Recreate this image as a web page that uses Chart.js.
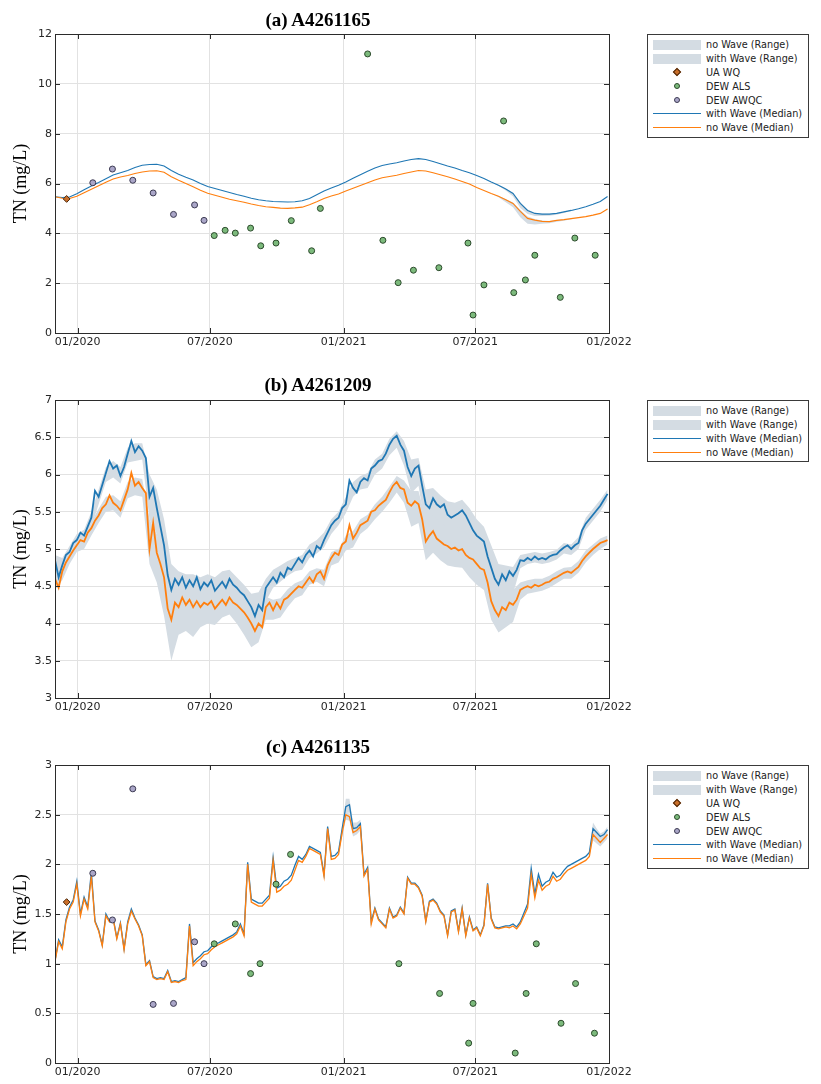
<!DOCTYPE html>
<html>
<head>
<meta charset="utf-8">
<title>TN (mg/L)</title>
<script src="https://cdn.jsdelivr.net/npm/chart.js@4.4.1/dist/chart.umd.min.js"></script>
<style>
    body { margin: 0; background: #fff; }
    #page { position: relative; width: 821px; height: 1084px; overflow: hidden; }
    #page canvas { position: absolute; left: 0; }
    .panel-title { position: absolute; left: 218px; width: 200px; text-align: center; font: bold 19px 'Liberation Serif', 'Times New Roman', serif; line-height: 22px; color: #000; }
    .legend-box { position: absolute; left: 647px; width: 162px; box-sizing: border-box; border: 1px solid #3a3a3a; padding: 3px 0 2px 0; background: #fff; font: 9.7px 'DejaVu Sans', sans-serif; color: #222; }
    .lg-row { display: flex; align-items: center; height: 13.8px; white-space: nowrap; }
    .lg-key { width: 49px; margin-left: 4px; margin-right: 5px; display: flex; justify-content: center; align-items: center; height: 13px; }
    .lg-band { display: block; width: 48px; height: 10px; }
    .lg-line { display: block; width: 48px; height: 0; border-top: 1.3px solid; }
    .lg-dot { display: block; width: 4px; height: 4px; border: 1px solid; border-radius: 50%; }
    .lg-diamond { display: block; width: 4px; height: 4px; border: 1px solid; transform: rotate(45deg); }
</style>
</head>
<body>
<div id="page"></div>
<script>
// x axis is in days since 2019-12-01
const tickDays = [31, 213, 397, 578, 762];
const tickLabels = ['01/2020', '07/2020', '01/2021', '07/2021', '01/2022'];

// ---------- (a) A4261165 ----------
const aStep = 10;
const aWithMedian = [
    5.47, 5.44, 5.46, 5.59, 5.75, 5.90, 6.04, 6.19, 6.34, 6.43,
    6.52, 6.64, 6.73, 6.76, 6.77, 6.70, 6.52, 6.37, 6.25, 6.14,
    6.00, 5.88, 5.80, 5.72, 5.64, 5.56, 5.49, 5.41, 5.35, 5.31,
    5.28, 5.27, 5.26, 5.27, 5.31, 5.40, 5.55, 5.70, 5.82, 5.93,
    6.06, 6.21, 6.35, 6.49, 6.62, 6.72, 6.78, 6.83, 6.90, 6.96,
    7.00, 6.96, 6.88, 6.79, 6.70, 6.62, 6.52, 6.43, 6.32, 6.20,
    6.06, 5.93, 5.78, 5.60, 5.20, 4.92, 4.80, 4.77, 4.77, 4.80,
    4.86, 4.92, 4.99, 5.07, 5.17, 5.28, 5.48
];
const aNoMedian = [
    5.47, 5.41, 5.40, 5.49, 5.63, 5.77, 5.91, 6.05, 6.18, 6.26,
    6.32, 6.40, 6.46, 6.50, 6.51, 6.45, 6.27, 6.13, 6.00, 5.87,
    5.73, 5.61, 5.53, 5.45, 5.37, 5.31, 5.25, 5.18, 5.12, 5.07,
    5.04, 5.01, 5.00, 5.02, 5.05, 5.15, 5.27, 5.40, 5.50, 5.58,
    5.70, 5.81, 5.92, 6.03, 6.14, 6.23, 6.28, 6.33, 6.40, 6.46,
    6.52, 6.50, 6.43, 6.35, 6.27, 6.18, 6.08, 5.98, 5.84, 5.72,
    5.60, 5.49, 5.35, 5.20, 4.88, 4.60, 4.53, 4.48, 4.47, 4.52,
    4.55, 4.59, 4.63, 4.67, 4.73, 4.80, 4.98
];
// range only shows where the recession bottoms out (09-11/2021)
const aBandDays = [600, 610, 620, 630, 640, 650, 660, 670, 680, 690, 700, 710, 720];
const aWithHi = [6.06, 5.94, 5.80, 5.63, 5.25, 4.96, 4.83, 4.79, 4.79, 4.81, 4.87, 4.93, 4.99];
const aWithLo = [6.06, 5.90, 5.72, 5.48, 5.02, 4.78, 4.70, 4.70, 4.71, 4.75, 4.82, 4.90, 4.99];
const aNoHi = [5.60, 5.50, 5.38, 5.24, 4.95, 4.68, 4.58, 4.52, 4.50, 4.54, 4.56, 4.59, 4.63];
const aNoLo = [5.60, 5.45, 5.25, 5.05, 4.65, 4.38, 4.35, 4.38, 4.40, 4.46, 4.51, 4.57, 4.63];
const aUaDays = [16];
const aUaVals = [5.38];
const awqcDays = [52, 79, 107, 135, 163, 192, 205];
const aAwqcVals = [6.03, 6.58, 6.13, 5.62, 4.76, 5.14, 4.52];
const aAlsDays = [219, 234, 248, 269, 283, 304, 325, 353, 365, 430, 451, 472, 493, 528, 568, 575, 590, 617, 631, 647, 660, 695, 715, 743];
const aAlsVals = [3.91, 4.12, 4.01, 4.21, 3.50, 3.61, 4.51, 3.30, 5.00, 11.2, 3.72, 2.02, 2.52, 2.62, 3.61, 0.72, 1.93, 8.51, 1.62, 2.13, 3.12, 1.43, 3.81, 3.12];

// ---------- (b) A4261209 ----------
const bStep = 5;
const bWithMedian = [
    4.85, 4.62, 4.78, 4.92, 4.96, 5.08, 5.12, 5.22, 5.18, 5.30,
    5.42, 5.78, 5.70, 5.86, 6.02, 6.18, 6.08, 6.12, 5.98, 6.10,
    6.28, 6.45, 6.30, 6.38, 6.32, 6.22, 5.70, 5.82, 5.55, 5.30,
    5.05, 4.65, 4.45, 4.60, 4.52, 4.62, 4.48, 4.58, 4.50, 4.62,
    4.46, 4.55, 4.50, 4.58, 4.44, 4.50, 4.56, 4.48, 4.60, 4.52,
    4.48, 4.42, 4.38, 4.30, 4.22, 4.10, 4.25, 4.18, 4.48, 4.55,
    4.62, 4.55, 4.68, 4.62, 4.75, 4.72, 4.80, 4.88, 4.82, 4.92,
    4.98, 4.90, 5.04, 5.00, 5.12, 5.22, 5.32, 5.38, 5.42, 5.55,
    5.60, 5.92, 5.82, 5.76, 5.90, 5.95, 5.92, 6.08, 6.12, 6.18,
    6.20, 6.28, 6.40, 6.48, 6.52, 6.40, 6.32, 6.10, 5.98, 6.08,
    6.12, 5.85, 5.60, 5.55, 5.68, 5.60, 5.56, 5.60, 5.46, 5.42,
    5.45, 5.48, 5.52, 5.45, 5.35, 5.25, 5.18, 5.14, 5.10, 4.90,
    4.75, 4.60, 4.52, 4.66, 4.58, 4.70, 4.64, 4.72, 4.85, 4.84,
    4.88, 4.85, 4.90, 4.86, 4.88, 4.86, 4.90, 4.92, 4.93, 4.98,
    5.02, 5.05, 5.00, 5.05, 5.08, 5.25, 5.34, 5.40, 5.46, 5.52,
    5.58, 5.66, 5.74
];
const bNoMedian = [
    4.60, 4.48, 4.70, 4.82, 4.90, 4.98, 5.05, 5.12, 5.10, 5.22,
    5.28, 5.38, 5.45, 5.55, 5.60, 5.72, 5.62, 5.58, 5.52, 5.66,
    5.80, 6.02, 5.85, 5.90, 5.82, 5.75, 5.00, 5.35, 4.95, 4.80,
    4.62, 4.20, 4.05, 4.28, 4.22, 4.35, 4.25, 4.32, 4.22, 4.30,
    4.22, 4.28, 4.25, 4.30, 4.20, 4.26, 4.32, 4.25, 4.35, 4.28,
    4.25, 4.20, 4.15, 4.08, 4.00, 3.90, 4.00, 3.95, 4.22, 4.28,
    4.18, 4.28, 4.20, 4.32, 4.35, 4.40, 4.45, 4.50, 4.48, 4.55,
    4.62, 4.55, 4.66, 4.70, 4.60, 4.78, 4.88, 4.95, 4.92, 5.06,
    5.10, 5.32, 5.14, 5.22, 5.32, 5.35, 5.38, 5.50, 5.52, 5.58,
    5.62, 5.66, 5.76, 5.85, 5.90, 5.82, 5.80, 5.62, 5.58, 5.64,
    5.60, 5.40, 5.10, 5.18, 5.24, 5.14, 5.10, 5.06, 5.04, 5.00,
    5.02, 4.98, 5.00, 4.92, 4.88, 4.86, 4.80, 4.74, 4.72, 4.55,
    4.30, 4.18, 4.10, 4.22, 4.18, 4.28, 4.25, 4.32, 4.45, 4.48,
    4.50, 4.48, 4.52, 4.50, 4.52, 4.55, 4.56, 4.60, 4.62, 4.65,
    4.68, 4.70, 4.68, 4.72, 4.76, 4.84, 4.90, 4.95, 5.00, 5.04,
    5.08, 5.10, 5.12
];
const bBandStep = 10;
const bWithHi = [
    4.92, 4.88, 5.04, 5.20, 5.26, 5.50, 5.80, 6.10, 6.18, 6.10,
    6.36, 6.42, 6.42, 6.00, 5.80, 5.40, 4.80, 4.70, 4.66, 4.66,
    4.62, 4.66, 4.62, 4.70, 4.72, 4.62, 4.52, 4.40, 4.42, 4.60,
    4.72, 4.78, 4.84, 4.88, 4.92, 5.06, 5.12, 5.22, 5.40, 5.50,
    5.70, 5.90, 5.98, 6.02, 6.20, 6.28, 6.48, 6.58, 6.45, 6.20,
    6.22, 5.80, 5.82, 5.72, 5.64, 5.62, 5.66, 5.55, 5.40, 5.30,
    5.05, 4.80, 4.78, 4.76, 4.92, 4.94, 4.96, 4.94, 4.96, 4.99,
    5.08, 5.06, 5.16, 5.42, 5.54, 5.66, 5.80
];
const bWithLo = [
    4.72, 4.66, 4.86, 5.02, 5.08, 5.30, 5.60, 5.90, 5.96, 5.88,
    6.16, 6.18, 6.20, 5.40, 5.20, 4.70, 4.05, 4.25, 4.25, 4.10,
    4.25, 4.30, 4.25, 4.35, 4.40, 4.30, 4.15, 3.95, 4.05, 4.30,
    4.48, 4.56, 4.64, 4.70, 4.72, 4.88, 4.94, 5.02, 5.20, 5.32,
    5.48, 5.70, 5.80, 5.82, 6.00, 6.08, 6.26, 6.36, 6.12, 5.75,
    5.85, 5.25, 5.35, 5.20, 5.10, 5.10, 5.15, 5.00, 4.85, 4.75,
    4.40, 4.20, 4.30, 4.40, 4.74, 4.80, 4.82, 4.80, 4.82, 4.86,
    4.94, 4.92, 5.00, 5.26, 5.38, 5.50, 5.66
];
const bNoHi = [
    4.70, 4.80, 4.98, 5.12, 5.18, 5.36, 5.54, 5.70, 5.72, 5.64,
    5.90, 5.96, 5.94, 5.40, 5.20, 4.90, 4.30, 4.40, 4.40, 4.38,
    4.38, 4.40, 4.36, 4.46, 4.50, 4.40, 4.30, 4.20, 4.18, 4.36,
    4.32, 4.34, 4.46, 4.54, 4.58, 4.70, 4.74, 4.72, 4.96, 5.00,
    5.18, 5.24, 5.40, 5.46, 5.60, 5.70, 5.84, 5.98, 5.92, 5.78,
    5.78, 5.40, 5.45, 5.35, 5.30, 5.30, 5.28, 5.15, 5.05, 4.98,
    4.65, 4.40, 4.42, 4.45, 4.55, 4.58, 4.60, 4.60, 4.64, 4.70,
    4.75, 4.76, 4.84, 4.98, 5.06, 5.14, 5.18
];
const bNoLo = [
    4.45, 4.58, 4.80, 4.96, 5.00, 5.18, 5.35, 5.50, 5.52, 5.42,
    5.68, 5.72, 5.70, 4.80, 4.55, 4.10, 3.50, 3.85, 3.90, 3.82,
    3.95, 4.00, 3.98, 4.08, 4.12, 4.00, 3.85, 3.68, 3.75, 4.05,
    4.05, 4.08, 4.22, 4.34, 4.38, 4.52, 4.56, 4.50, 4.78, 4.82,
    4.98, 5.02, 5.20, 5.28, 5.40, 5.50, 5.62, 5.76, 5.62, 5.30,
    5.35, 4.85, 4.95, 4.85, 4.78, 4.76, 4.75, 4.62, 4.52, 4.45,
    4.05, 3.88, 3.95, 4.02, 4.32, 4.40, 4.42, 4.44, 4.48, 4.54,
    4.60, 4.60, 4.68, 4.82, 4.92, 5.00, 5.06
];

// ---------- (c) A4261135 ----------
const cStep = 5;
const cWithMedian = [
    1.03, 1.24, 1.17, 1.44, 1.57, 1.64, 1.83, 1.50, 1.67, 1.57,
    1.92, 1.43, 1.34, 1.19, 1.50, 1.43, 1.46, 1.26, 1.41, 1.15,
    1.42, 1.55, 1.46, 1.39, 1.29, 0.99, 1.03, 0.87, 0.85, 0.86,
    0.85, 0.93, 0.82, 0.83, 0.82, 0.84, 0.86, 1.40, 1.01, 1.05,
    1.08, 1.12, 1.13, 1.17, 1.20, 1.21, 1.23, 1.25, 1.27, 1.29,
    1.32, 1.40, 1.30, 2.02, 1.65, 1.63, 1.61, 1.61, 1.65, 1.69,
    2.07, 1.76, 1.78, 1.83, 1.85, 1.89, 1.99, 2.08, 2.05, 2.10,
    2.18, 2.16, 2.14, 2.12, 1.90, 2.38, 2.08, 2.09, 2.13, 2.36,
    2.58, 2.60, 2.36, 2.37, 2.41, 1.90, 1.97, 1.42, 1.56, 1.45,
    1.41, 1.37, 1.56, 1.47, 1.49, 1.57, 1.51, 1.87, 1.81, 1.81,
    1.77, 1.69, 1.43, 1.63, 1.65, 1.61, 1.53, 1.49, 1.29, 1.53,
    1.55, 1.33, 1.56, 1.29, 1.47, 1.34, 1.37, 1.29, 1.39, 1.81,
    1.46, 1.37, 1.36, 1.37, 1.38, 1.38, 1.40, 1.37, 1.42, 1.51,
    1.60, 1.96, 1.70, 1.90, 1.78, 1.82, 1.84, 1.92, 1.87, 1.89,
    1.94, 1.98, 2.00, 2.02, 2.04, 2.06, 2.08, 2.12, 2.36, 2.32,
    2.28, 2.30, 2.35
];
const cNoMedian = [
    1.02, 1.22, 1.15, 1.42, 1.55, 1.62, 1.80, 1.48, 1.65, 1.55,
    1.88, 1.42, 1.33, 1.18, 1.48, 1.42, 1.45, 1.25, 1.40, 1.14,
    1.40, 1.53, 1.45, 1.38, 1.28, 0.98, 1.02, 0.86, 0.84, 0.85,
    0.84, 0.92, 0.81, 0.82, 0.81, 0.83, 0.84, 1.38, 0.98, 1.02,
    1.05, 1.09, 1.10, 1.14, 1.17, 1.19, 1.21, 1.23, 1.25, 1.27,
    1.30, 1.38, 1.28, 2.00, 1.62, 1.60, 1.58, 1.58, 1.62, 1.66,
    2.04, 1.72, 1.74, 1.78, 1.80, 1.84, 1.94, 2.04, 2.02, 2.08,
    2.16, 2.14, 2.12, 2.10, 1.88, 2.36, 2.05, 2.06, 2.10, 2.32,
    2.50, 2.48, 2.32, 2.34, 2.38, 1.88, 1.95, 1.40, 1.55, 1.44,
    1.40, 1.36, 1.55, 1.46, 1.48, 1.56, 1.50, 1.86, 1.80, 1.80,
    1.76, 1.68, 1.42, 1.62, 1.64, 1.60, 1.52, 1.48, 1.28, 1.52,
    1.54, 1.32, 1.55, 1.28, 1.46, 1.33, 1.36, 1.28, 1.38, 1.80,
    1.45, 1.36, 1.35, 1.36, 1.37, 1.36, 1.38, 1.35, 1.40, 1.48,
    1.56, 1.90, 1.66, 1.84, 1.74, 1.78, 1.80, 1.88, 1.83, 1.85,
    1.90, 1.94, 1.96, 1.98, 2.00, 2.02, 2.04, 2.08, 2.30, 2.26,
    2.22, 2.26, 2.30
];
// range is only wider than the line around the two peaks
const cBandDays = [390, 395, 400, 405, 410, 415, 420, 425, 735, 740, 745, 750, 755, 760];
const cWithHi = [2.13, 2.40, 2.66, 2.66, 2.42, 2.42, 2.45, 1.90, 2.12, 2.42, 2.36, 2.31, 2.33, 2.38];
const cWithLo = [2.13, 2.33, 2.52, 2.52, 2.32, 2.33, 2.36, 1.90, 2.12, 2.32, 2.28, 2.25, 2.27, 2.32];
const cNoHi = [2.10, 2.34, 2.53, 2.51, 2.35, 2.37, 2.40, 1.88, 2.08, 2.33, 2.29, 2.25, 2.28, 2.32];
const cNoLo = [2.10, 2.28, 2.45, 2.44, 2.28, 2.30, 2.34, 1.88, 2.08, 2.24, 2.21, 2.18, 2.22, 2.26];
const cUaDays = [16];
const cUaVals = [1.62];
const cAwqcVals = [1.91, 1.44, 2.76, 0.59, 0.60, 1.22, 1.00];
const cAlsDays = [219, 248, 269, 282, 304, 324, 473, 529, 569, 575, 633, 648, 662, 696, 716, 742];
const cAlsVals = [1.20, 1.40, 0.90, 1.00, 1.80, 2.10, 1.00, 0.70, 0.20, 0.60, 0.10, 0.70, 1.20, 0.40, 0.80, 0.30];

const legendOrder = ['no Wave (Range)', 'with Wave (Range)', 'UA WQ', 'DEW ALS', 'DEW AWQC', 'with Wave (Median)', 'no Wave (Median)'];

const COLORS = {
    withLine: '#1f77b4',
    noLine: '#ff7f0e',
    band: '#d4dce3',
    alsFill: '#7cba7c', alsEdge: '#2c4a2c',
    awqcFill: '#aaa6c8', awqcEdge: '#3c3a52',
    uaFill: '#c96f2a', uaEdge: '#4a2508',
    grid: '#e2e2e2',
    axis: '#2b2b2b',
    tick: '#262626'
};

function stepSeries(step, values) {
    return values.map((v, i) => ({ x: i * step, y: v }));
}
function pointSeries(days, values) {
    return days.map((d, i) => ({ x: d, y: values[i] }));
}

function markerSet(label, days, vals, style, fill, edge, radius) {
    return {
        label, legendKind: 'marker', data: pointSeries(days, vals), showLine: false,
        pointStyle: style, pointRadius: radius, pointBorderWidth: 1,
        pointBackgroundColor: fill, pointBorderColor: edge,
        backgroundColor: fill, borderColor: edge
    };
}
function lineSet(label, data, color, width) {
    return {
        label, legendKind: 'line', data,
        borderColor: color, backgroundColor: color, borderWidth: width, pointRadius: 0, fill: false
    };
}
function bandSets(label, hiData, loData) {
    return [
        { label, legendKind: 'band', data: hiData, borderColor: 'rgba(0,0,0,0)', borderWidth: 1, pointRadius: 0, backgroundColor: COLORS.band, fill: '+1' },
        { label: '', data: loData, borderColor: 'rgba(0,0,0,0)', borderWidth: 1, pointRadius: 0, fill: false }
    ];
}

// MATLAB style box with inward tick marks
const matlabFrame = {
    id: 'matlabFrame',
    afterDraw(chart) {
        const { ctx, chartArea: a, scales: { x, y } } = chart;
        const len = 5;
        ctx.save();
        ctx.strokeStyle = COLORS.axis;
        ctx.lineWidth = 1;
        ctx.beginPath();
        x.ticks.forEach(t => {
            const px = Math.round(x.getPixelForValue(t.value)) + 0.5;
            ctx.moveTo(px, a.bottom); ctx.lineTo(px, a.bottom - len);
            ctx.moveTo(px, a.top); ctx.lineTo(px, a.top + len);
        });
        y.ticks.forEach(t => {
            const py = Math.round(y.getPixelForValue(t.value)) + 0.5;
            ctx.moveTo(a.left, py); ctx.lineTo(a.left + len, py);
            ctx.moveTo(a.right, py); ctx.lineTo(a.right - len, py);
        });
        ctx.stroke();
        ctx.strokeRect(Math.round(a.left) + 0.5, Math.round(a.top) + 0.5, Math.round(a.right - a.left), Math.round(a.bottom - a.top));
        ctx.restore();
    }
};

function legendKey(ds) {
    if (ds.legendKind === 'band') return `<span class="lg-band" style="background:${ds.backgroundColor}"></span>`;
    if (ds.legendKind === 'line') return `<span class="lg-line" style="border-top-color:${ds.borderColor}"></span>`;
    const cls = ds.pointStyle === 'rectRot' ? 'lg-diamond' : 'lg-dot';
    return `<span class="${cls}" style="background:${ds.pointBackgroundColor};border-color:${ds.pointBorderColor}"></span>`;
}

function makePanel(p) {
    const page = document.getElementById('page');
    const canvas = document.createElement('canvas');
    canvas.width = 821;
    canvas.height = p.layout.height;
    canvas.style.top = p.layout.top + 'px';
    page.appendChild(canvas);

    const title = document.createElement('div');
    title.className = 'panel-title';
    title.style.top = p.layout.titleTop + 'px';
    title.textContent = p.title;
    page.appendChild(title);

    const band = vals => p.bandDays ? pointSeries(p.bandDays, vals) : stepSeries(p.bandStep, vals);

    const datasets = [];
    if (p.uaDays) datasets.push(markerSet('UA WQ', p.uaDays, p.uaVals, 'rectRot', COLORS.uaFill, COLORS.uaEdge, 3.4));
    if (p.alsDays) datasets.push(markerSet('DEW ALS', p.alsDays, p.alsVals, 'circle', COLORS.alsFill, COLORS.alsEdge, 3));
    if (p.awqcDays) datasets.push(markerSet('DEW AWQC', p.awqcDays, p.awqcVals, 'circle', COLORS.awqcFill, COLORS.awqcEdge, 3));
    datasets.push(lineSet('no Wave (Median)', stepSeries(p.step, p.noMedian), COLORS.noLine, p.lineWidth));
    datasets.push(lineSet('with Wave (Median)', stepSeries(p.step, p.withMedian), COLORS.withLine, p.lineWidth));
    datasets.push(...bandSets('no Wave (Range)', band(p.noHi), band(p.noLo)));
    datasets.push(...bandSets('with Wave (Range)', band(p.withHi), band(p.withLo)));

    new Chart(canvas, {
        type: 'line',
        data: { datasets },
        options: {
            responsive: false, animation: false, events: [], devicePixelRatio: 1,
            layout: { padding: { top: 34, left: 10, right: 212, bottom: 0 } },
            plugins: {
                legend: { display: false },
                tooltip: { enabled: false },
                filler: { propagate: false, drawTime: 'beforeDatasetsDraw' }
            },
            scales: {
                x: {
                    type: 'linear', min: 0, max: 762,
                    afterBuildTicks: s => { s.ticks = tickDays.map(v => ({ value: v })); },
                    afterFit: s => { s.height = p.layout.xAxisHeight; },
                    ticks: {
                        autoSkip: false, maxRotation: 0, padding: 3, color: COLORS.tick,
                        font: { family: 'DejaVu Sans', size: 11 },
                        callback: v => tickLabels[tickDays.indexOf(v)] || ''
                    },
                    grid: { color: COLORS.grid, drawTicks: false },
                    border: { display: false }
                },
                y: {
                    min: p.yMin, max: p.yMax,
                    afterFit: s => { s.width = 45; },
                    ticks: {
                        stepSize: p.yStep, padding: 3, color: COLORS.tick,
                        font: { family: 'DejaVu Sans', size: 11 },
                        callback: v => String(+v.toFixed(2))
                    },
                    grid: { color: COLORS.grid, drawTicks: false },
                    border: { display: false },
                    title: { display: true, text: 'TN (mg/L)', color: '#000', padding: { top: 0, bottom: 0 }, font: { family: 'Liberation Serif', size: 18 } }
                }
            }
        },
        plugins: [matlabFrame]
    });

    const box = document.createElement('div');
    box.className = 'legend-box';
    box.style.top = p.layout.legendTop + 'px';
    box.innerHTML = legendOrder
        .map(l => datasets.find(d => d.label === l))
        .filter(Boolean)
        .map(d => `<div class="lg-row"><span class="lg-key">${legendKey(d)}</span><span>${d.label}</span></div>`)
        .join('');
    page.appendChild(box);
}

makePanel({
    title: '(a) A4261165', yMin: 0, yMax: 12, yStep: 2, lineWidth: 1.1,
    layout: { top: 0, height: 355, titleTop: 9, legendTop: 34, xAxisHeight: 22 },
    step: aStep, withMedian: aWithMedian, noMedian: aNoMedian,
    bandDays: aBandDays, withHi: aWithHi, withLo: aWithLo, noHi: aNoHi, noLo: aNoLo,
    uaDays: aUaDays, uaVals: aUaVals, alsDays: aAlsDays, alsVals: aAlsVals, awqcDays: awqcDays, awqcVals: aAwqcVals
});
makePanel({
    title: '(b) A4261209', yMin: 3, yMax: 7, yStep: 0.5, lineWidth: 1.8,
    layout: { top: 366, height: 354, titleTop: 374, legendTop: 400, xAxisHeight: 22 },
    step: bStep, withMedian: bWithMedian, noMedian: bNoMedian,
    bandStep: bBandStep, withHi: bWithHi, withLo: bWithLo, noHi: bNoHi, noLo: bNoLo
});
makePanel({
    title: '(c) A4261135', yMin: 0, yMax: 3, yStep: 0.5, lineWidth: 1.3,
    layout: { top: 731, height: 353, titleTop: 736, legendTop: 765, xAxisHeight: 21 },
    step: cStep, withMedian: cWithMedian, noMedian: cNoMedian,
    bandDays: cBandDays, withHi: cWithHi, withLo: cWithLo, noHi: cNoHi, noLo: cNoLo,
    uaDays: cUaDays, uaVals: cUaVals, alsDays: cAlsDays, alsVals: cAlsVals, awqcDays: awqcDays, awqcVals: cAwqcVals
});
</script>
</body>
</html>
